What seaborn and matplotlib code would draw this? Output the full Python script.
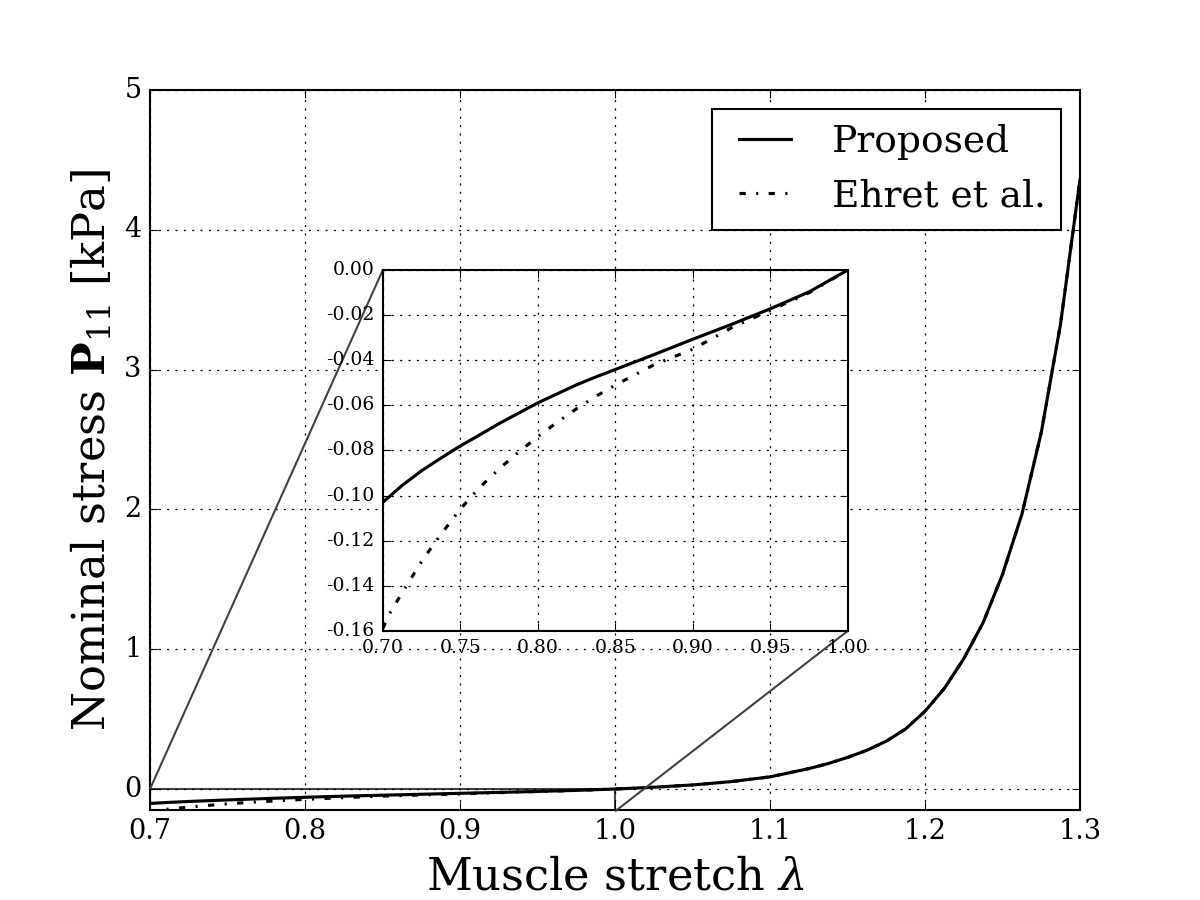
import numpy as np
import pandas as pd
import matplotlib
matplotlib.use("Agg")
import matplotlib.pyplot as plt
import seaborn as sns
from mpl_toolkits.axes_grid1.inset_locator import mark_inset

# ---- data ----
stretch = [0.70, 0.705, 0.7125, 0.725, 0.7375, 0.75, 0.7625, 0.775, 0.7875, 0.80,
           0.8125, 0.825, 0.8375, 0.85, 0.875, 0.90, 0.925, 0.95, 0.975, 1.00,
           1.025, 1.05, 1.075, 1.10, 1.125, 1.1375, 1.15, 1.1625, 1.175, 1.1875,
           1.20, 1.2125, 1.225, 1.2375, 1.25, 1.2625, 1.275, 1.2875, 1.30]
proposed = [-0.1030, -0.1000, -0.0955, -0.0890, -0.0834, -0.0780, -0.0731, -0.0681,
            -0.0635, -0.0589, -0.0549, -0.0509, -0.0474, -0.0441, -0.0375, -0.0307,
            -0.0241, -0.0172, -0.0097, 0.0,
            0.013, 0.029, 0.053, 0.087, 0.146, 0.182, 0.226, 0.277, 0.342, 0.430,
            0.556, 0.720, 0.932, 1.19, 1.535, 1.965, 2.55, 3.33, 4.36]
ehret = [-0.1589, -0.1516, -0.1431, -0.1292, -0.1172, -0.1060, -0.0964, -0.0882,
         -0.0808, -0.0739, -0.0675, -0.0615, -0.0560, -0.0510, -0.0420, -0.0351,
         -0.0256, -0.0179, -0.0101, 0.0,
         0.013, 0.029, 0.053, 0.087, 0.146, 0.182, 0.226, 0.277, 0.342, 0.430,
         0.556, 0.720, 0.932, 1.19, 1.535, 1.965, 2.55, 3.33, 4.36]
main_xticks = [0.7, 0.8, 0.9, 1.0, 1.1, 1.2, 1.3]
main_yticks = [0, 1, 2, 3, 4, 5]
inset_xticks = [0.70, 0.75, 0.80, 0.85, 0.90, 0.95, 1.00]
inset_yticks = [0.00, -0.02, -0.04, -0.06, -0.08, -0.10, -0.12, -0.14, -0.16]

plt.style.use("classic")
plt.rcParams["font.family"] = ["DejaVu Serif"]
plt.rcParams["mathtext.fontset"] = "dejavuserif"

fig = plt.figure(figsize=(8, 6), dpi=150, facecolor="white")
ax = fig.add_axes([0.125, 0.1, 0.775, 0.8])

sns.lineplot(x=stretch, y=proposed, ax=ax, color="k", lw=1.5, label="Proposed")
sns.lineplot(x=stretch, y=ehret, ax=ax, color="k", lw=1.5, linestyle="-.",
             label="Ehret et al.")
ax.set_xlim(0.7, 1.3)
ax.set_ylim(-0.15, 5)
ax.set_xticks(main_xticks)
ax.set_xticklabels([f"{v:.1f}" for v in main_xticks], fontsize=13)
ax.set_yticks(main_yticks)
ax.set_yticklabels([str(v) for v in main_yticks], fontsize=13)
ax.grid(True, color="k", linestyle=":", linewidth=0.6)
ax.set_xlabel(r"Muscle stretch $\lambda$", fontsize=21.5)
ax.set_ylabel(r"Nominal stress $\mathbf{P}_{11}$ [kPa]", fontsize=21.5)
leg = ax.legend(loc="upper right", fontsize=18, frameon=True, fancybox=False)
leg.get_frame().set_edgecolor("k")

axins = fig.add_axes([0.319, 0.299, 0.3875, 0.401])
sns.lineplot(x=stretch, y=proposed, ax=axins, color="k", lw=1.5, legend=False)
sns.lineplot(x=stretch, y=ehret, ax=axins, color="k", lw=1.5, linestyle="-.",
             legend=False)
axins.set_xlim(0.7, 1.0)
axins.set_ylim(-0.16, 0.0)
axins.set_xticks(inset_xticks)
axins.set_xticklabels([f"{v:.2f}" for v in inset_xticks], fontsize=9)
axins.set_yticks(inset_yticks)
axins.set_yticklabels([f"{v:.2f}" for v in inset_yticks], fontsize=9)
axins.grid(True, color="k", linestyle=":", linewidth=0.6)
axins.set_xlabel("")
axins.set_ylabel("")

mark_inset(ax, axins, loc1=2, loc2=4, fc="none", ec="0.25", lw=1.0)

fig.savefig("out.png", dpi=150, facecolor="white")
